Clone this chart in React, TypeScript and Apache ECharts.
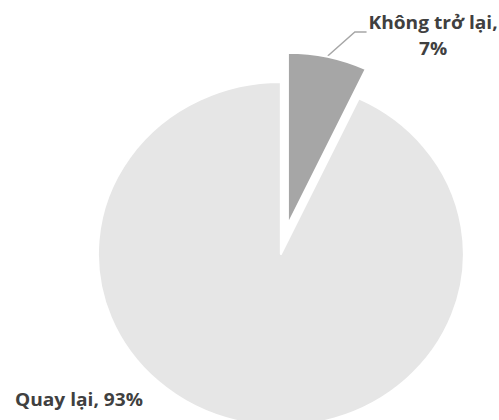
import React, { useEffect, useRef } from "react";
import * as echarts from "echarts";

const categories = ["Không trở lại", "Quay lại"];
const values = [7, 93];
const sliceColors = ["#a6a6a6", "#e6e6e6"];
const explodedIndex = 0;

// The reference picture is horizontally stretched; reproduce it with a CSS scale.
const STRETCH = 1.064;
const PAGE_W = 499;
const PAGE_H = 420;

const CENTER: [number, number] = [264, 254];
const RADIUS = 172;
const EXPLODE = 30;

export default function App() {
  const ref = useRef<HTMLDivElement>(null);

  useEffect(() => {
    if (!ref.current) return;
    const chart = echarts.init(ref.current, undefined, { renderer: "svg" });

    const total = values.reduce((a, b) => a + b, 0);
    // angle (clockwise from 12 o'clock) to the middle of the exploded slice
    const before = values.slice(0, explodedIndex).reduce((a, b) => a + b, 0);
    const midFrac = (before + values[explodedIndex] / 2) / total;
    const midRad = midFrac * Math.PI * 2;
    const explodedCenter = [
      CENTER[0] + EXPLODE * Math.sin(midRad),
      CENTER[1] - EXPLODE * Math.cos(midRad),
    ];

    const labelStyle = {
      show: true,
      fontFamily: "Open Sans",
      fontWeight: "bold" as const,
      fontSize: 18,
      lineHeight: 26,
      color: "#404040",
    };

    const makeData = (visibleIdx: (i: number) => boolean) =>
      categories.map((name, i) => {
        const vis = visibleIdx(i);
        return {
          name,
          value: values[i],
          itemStyle: vis
            ? { color: sliceColors[i], borderColor: "#ffffff", borderWidth: 2 }
            : { color: "rgba(0,0,0,0)", borderWidth: 0 },
          label: { show: vis },
          labelLine: { show: vis && i === explodedIndex },
        };
      });

    chart.setOption({
      animation: false,
      backgroundColor: "#ffffff",
      series: [
        {
          type: "pie",
          name: "base",
          center: CENTER,
          radius: RADIUS,
          startAngle: 90,
          clockwise: true,
          avoidLabelOverlap: false,
          emphasis: { disabled: true },
          label: {
            ...labelStyle,
            formatter: (p: any) => `${p.name}, ${p.value}%`,
          },
          labelLine: { show: false },
          labelLayout: () => ({
            x: 14,
            y: 399,
            align: "left",
            verticalAlign: "middle",
          }),
          data: makeData((i) => i !== explodedIndex),
        },
        {
          type: "pie",
          name: "exploded",
          center: explodedCenter,
          radius: RADIUS,
          startAngle: 90,
          clockwise: true,
          avoidLabelOverlap: false,
          emphasis: { disabled: true },
          label: {
            ...labelStyle,
            formatter: (p: any) => `${p.name},\n${p.value}%`,
          },
          labelLine: {
            show: true,
            lineStyle: { color: "#a6a6a6", width: 1.3 },
          },
          labelLayout: () => ({
            x: 407,
            y: 35,
            align: "center",
            verticalAlign: "middle",
            labelLinePoints: [
              [308, 56],
              [333.5, 32],
              [344.5, 32],
            ],
          }),
          data: makeData((i) => i === explodedIndex),
        },
      ],
    });
    return () => chart.dispose();
  }, []);

  return (
    <div
      ref={ref}
      style={{
        position: "absolute",
        left: 0,
        top: 0,
        width: Math.round(PAGE_W / STRETCH),
        height: PAGE_H,
        transform: `scaleX(${STRETCH})`,
        transformOrigin: "0 0",
      }}
    />
  );
}
